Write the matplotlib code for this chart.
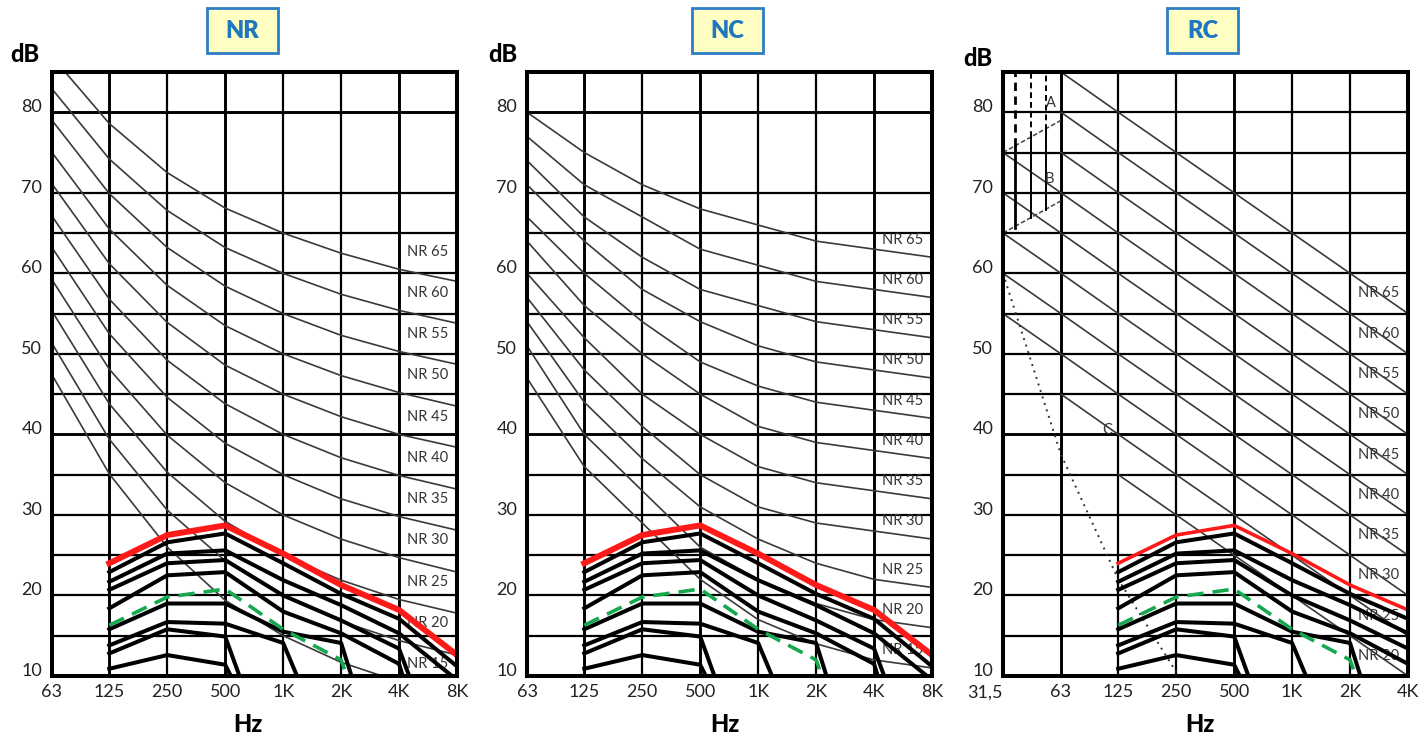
import numpy as np
import matplotlib.pyplot as plt
from matplotlib.patches import Rectangle
from matplotlib.ticker import NullLocator

plt.rcParams['font.family'] = ['Lato', 'DejaVu Sans']

nan = np.nan

# octave bands
bands = [63, 125, 250, 500, 1000, 2000, 4000, 8000]
band_labels = ['63', '125', '250', '500', '1K', '2K', '4K', '8K']
rc_bands = [31.5, 63, 125, 250, 500, 1000, 2000, 4000]
rc_band_labels = ['31,5', '63', '125', '250', '500', '1K', '2K', '4K']
spec_bands = [125, 250, 500, 1000, 2000, 4000, 8000]
db_ticks = [10, 20, 30, 40, 50, 60, 70, 80]

# rating curves 15..65
levels = [15, 20, 25, 30, 35, 40, 45, 50, 55, 60, 65]
nr_curves = [
    [47.4, 35.1, 26.0, 19.4, 15.0, 11.7, 9.3, 7.5],
    [51.3, 39.4, 30.6, 24.3, 20.0, 16.8, 14.4, 12.6],
    [55.3, 43.8, 35.3, 29.2, 25.0, 21.9, 19.5, 17.8],
    [59.2, 48.1, 39.9, 34.0, 30.0, 27.0, 24.7, 22.9],
    [63.2, 52.5, 44.6, 38.9, 35.0, 32.0, 29.8, 28.1],
    [67.1, 56.8, 49.2, 43.8, 40.0, 37.1, 34.9, 33.2],
    [71.1, 61.2, 53.9, 48.6, 45.0, 42.2, 40.0, 38.4],
    [75.0, 65.5, 58.5, 53.5, 50.0, 47.3, 45.2, 43.5],
    [79.0, 69.9, 63.2, 58.4, 55.0, 52.3, 50.3, 48.7],
    [82.9, 74.2, 67.8, 63.2, 60.0, 57.4, 55.4, 53.8],
    [86.9, 78.6, 72.5, 68.1, 65.0, 62.5, 60.5, 59.0],
]
nc_curves = [
    [47, 36, 29, 22, 17, 14, 12, 11],
    [51, 40, 33, 26, 22, 19, 17, 16],
    [54, 44, 37, 31, 27, 24, 22, 21],
    [57, 48, 41, 35, 31, 29, 28, 27],
    [60, 52, 45, 40, 36, 34, 33, 32],
    [64, 56, 50, 45, 41, 39, 38, 37],
    [67, 60, 54, 49, 46, 44, 43, 42],
    [71, 64, 58, 54, 51, 49, 48, 47],
    [74, 67, 62, 58, 56, 54, 53, 52],
    [77, 71, 67, 63, 61, 59, 58, 57],
    [80, 75, 71, 68, 66, 64, 63, 62],
]
rc_levels = [20, 25, 30, 35, 40, 45, 50, 55, 60, 65]
rc_curves = [
    [nan, nan, 35, 30, 25, 20, 15, 10],
    [nan, 45, 40, 35, 30, 25, 20, 15],
    [55, 50, 45, 40, 35, 30, 25, 20],
    [60, 55, 50, 45, 40, 35, 30, 25],
    [65, 60, 55, 50, 45, 40, 35, 30],
    [70, 65, 60, 55, 50, 45, 40, 35],
    [75, 70, 65, 60, 55, 50, 45, 40],
    [nan, 75, 70, 65, 60, 55, 50, 45],
    [nan, 80, 75, 70, 65, 60, 55, 50],
    [nan, 85, 80, 75, 70, 65, 60, 55],
]

# measured spectra (125 Hz .. 8 kHz)
red_spectrum = [24.0, 27.5, 28.7, 25.2, 21.3, 18.2, 12.6]
green_spectrum = [16.3, 19.8, 20.8, 15.8, 12.0, -8.0]
black_spectra = [
    [22.9, 26.6, 27.7, 24.0, 20.2, 17.1, 11.2],
    [21.7, 25.2, 25.6, 21.9, 18.8, 15.3, 9.5],
    [20.7, 24.0, 24.4, 20.0, 16.9, 13.4, -6.0],
    [18.4, 22.5, 22.9, 18.0, 15.3, 11.5, -12.0],
    [15.8, 19.0, 19.0, 15.5, 14.1, -8.7],
    [13.8, 16.7, 16.5, 14.1, -3.0],
    [12.8, 15.8, 14.9, -5.0],
    [10.9, 12.6, 11.4, -3.0],
]

# RC extras
hearing_bands = [31.5, 63, 125, 250, 500]
hearing_db = [60.0, 37.5, 22.0, 10.5, 0.0]
ab_edges = [31.5, 63]
a_boundary = [75.0, 79.0]
b_boundary = [65.0, 69.0]
ab_freqs = [36.4, 44.2, 52.4]
ab_low = [65.6, 66.9, 67.9]
ab_high = [75.8, 76.9, 77.8]

W, H = 1425, 740
fig = plt.figure(figsize=(14.25, 7.4), dpi=100)


def px_axes(left, right, top=72, bottom=676):
    return fig.add_axes([left / W, 1 - bottom / H, (right - left) / W, (bottom - top) / H])


def frame(ax, xb, xlabels, thick_x, hlines, thick_y):
    ax.set_xscale('log', base=2)
    ax.set_xlim(xb[0], xb[-1])
    ax.set_ylim(10, 85)
    for f in xb[1:-1]:
        ax.axvline(f, color='black', lw=2.1 if f in thick_x else 1.6, zorder=1)
    for v in hlines:
        ax.axhline(v, color='black', lw=2.1 if v in thick_y else 1.6, zorder=1)
    ax.set_xticks(xb, xlabels)
    ax.xaxis.set_minor_locator(NullLocator())
    ax.set_yticks(db_ticks, [str(v) for v in db_ticks], va='baseline')
    ax.tick_params(length=0, labelsize=13, labelcolor='#222222')
    ax.tick_params(axis='x', pad=6)
    ax.tick_params(axis='y', pad=7)
    for s in ax.spines.values():
        s.set_linewidth(2.9)
        s.set_zorder(6)


def spectra(ax, red_lw):
    for s in black_spectra:
        ax.plot(spec_bands[:len(s)], s, color='black', lw=2.9, zorder=3)
    ax.plot(spec_bands[:len(green_spectrum)], green_spectrum, color='#16a84f',
            lw=2.6, dashes=(4.5, 2.5), zorder=4)
    ax.plot(spec_bands, red_spectrum, color='#ff1a1a', lw=red_lw, zorder=5)


def title_box(cx, text):
    w, h = 71, 45
    fig.add_artist(Rectangle(((cx - w / 2) / W, 1 - 53 / H), w / W, h / H,
                             transform=fig.transFigure, facecolor='#ffffc4',
                             edgecolor='#2b7ec6', lw=2))
    fig.text(cx / W, 1 - 30.5 / H, text, ha='center', va='center',
             fontsize=17, fontweight='heavy', color='#1f77c0')


curve_kw = dict(color='#3a3a3a', lw=1.2, zorder=2)
label_kw = dict(ha='center', va='center', fontsize=10.5, color='#333333', zorder=2.5)
grid_nr = [15, 20, 25, 30, 35, 40, 45, 50, 55, 60, 65, 70, 80]
grid_rc = [15, 20, 25, 30, 35, 40, 45, 50, 55, 60, 65, 70, 75, 80]

# NR panel
ax1 = px_axes(52, 457)
frame(ax1, bands, band_labels, [125, 500, 4000], grid_nr, [40, 80])
for n, c in zip(levels, nr_curves):
    ax1.plot(bands, c, **curve_kw)
    ax1.text(np.sqrt(4000 * 8000), c[6] + 2.2, f'NR {n}', **label_kw)
spectra(ax1, 4.3)

# NC panel
ax2 = px_axes(527, 932)
frame(ax2, bands, band_labels, [125, 500, 4000], grid_nr, [40, 80])
for n, c in zip(levels, nc_curves):
    ax2.plot(bands, c, **curve_kw)
    ax2.text(np.sqrt(4000 * 8000), c[6] + 1.2, f'NR {n}', **label_kw)
spectra(ax2, 4.3)

# RC panel
ax3 = px_axes(1003, 1408)
frame(ax3, rc_bands, rc_band_labels, [63, 500], grid_rc, [40])
ax3.get_xticklabels()[0].set_horizontalalignment('right')
for n, c in zip(rc_levels, rc_curves):
    ax3.plot(rc_bands, c, **curve_kw)
    ax3.text(np.sqrt(2000 * 4000), (c[6] + c[7]) / 2, f'NR {n}', **label_kw)
ax3.plot(hearing_bands, hearing_db, color='#333333', lw=1.4,
         ls=(0, (1, 2.5)), zorder=2)
ax3.plot(ab_edges, a_boundary, color='#444444', lw=1.1, ls=(0, (3, 1.5)), zorder=2)
ax3.plot(ab_edges, b_boundary, color='#444444', lw=1.1, ls=(0, (3, 1.5)), zorder=2)
for f, lo, hi, w in zip(ab_freqs, ab_low, ab_high, [2.0, 1.4, 1.4]):
    ax3.plot([f, f], [lo, hi], color='black', lw=w, zorder=2)
    ax3.plot([f, f], [hi, 85], color='black', lw=w, ls=(0, (3, 2)), zorder=2)
for t, f, y in zip(['A', 'B', 'C'], [56, 55, 110], [81.1, 71.7, 40.5]):
    ax3.text(f, y, t, ha='center', va='center', fontsize=10.5, color='#333333')
spectra(ax3, 2.6)

for cx, t in zip([242.5, 727.5, 1202.5], ['NR', 'NC', 'RC']):
    title_box(cx, t)
for x, y in zip([25, 503, 978], [55, 55, 58]):
    fig.text(x / W, 1 - y / H, 'dB', ha='center', va='center', fontsize=17, fontweight='black')
for x in [248, 725, 1200]:
    fig.text(x / W, 1 - 725 / H, 'Hz', ha='center', va='center', fontsize=17, fontweight='black')

fig.savefig('out.png', dpi=100)
